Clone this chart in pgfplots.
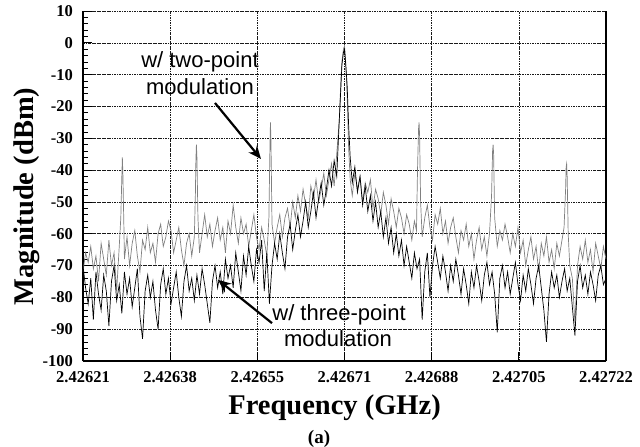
\documentclass[border=0pt]{standalone}
\usepackage{pgfplots}
\pgfplotsset{compat=1.18}
\usepackage{pgfplotstable}
\usepackage{fontspec}
\setmainfont{Liberation Serif}
\setsansfont{Liberation Sans}
\usetikzlibrary{arrows.meta,calc}

% x = frequency offset from 2.42621 GHz in kHz
\pgfplotstableread{
x y
0 -72
5 -66
10 -69
15 -64
20 -71
25 -67
30 -75
35 -63
40 -68
45 -73
50 -62
55 -70
60 -66
65 -78
70 -64
73 -55
75 -42
76 -36
77 -41
79 -58
80 -68
85 -61
90 -70
95 -63
100 -59
105 -67
110 -72
115 -62
120 -65
125 -58
130 -66
135 -63
140 -69
145 -60
150 -57
155 -64
160 -61
165 -56
170 -59
175 -66
180 -62
185 -58
190 -65
195 -70
200 -63
205 -60
210 -67
215 -61
217 -48
218 -37
219 -32
220 -36
222 -55
225 -66
230 -60
235 -54
240 -61
245 -57
250 -64
255 -59
260 -55
265 -62
270 -58
275 -66
280 -56
285 -60
290 -51
295 -58
300 -63
305 -55
310 -60
315 -57
320 -64
325 -59
330 -54
335 -61
340 -65
345 -58
350 -62
355 -67
359 -55
361 -33
362 -25
363 -31
365 -57
370 -63
375 -58
380 -54
385 -61
390 -55
395 -52
400 -58
405 -50
410 -55
415 -48
420 -53
425 -46
430 -51
435 -55
440 -45
445 -49
450 -43
455 -50
460 -46
465 -41
470 -48
475 -43
480 -38
485 -45
490 -35
495 -24
498 -12
500 -6
503 -2
505 -1
507 -5
510 -16
513 -33
516 -43
520 -48
525 -41
530 -46
535 -42
540 -50
545 -44
550 -47
555 -43
560 -52
565 -46
570 -49
575 -54
580 -47
585 -51
590 -57
595 -49
600 -53
605 -58
610 -52
615 -55
620 -60
625 -54
630 -57
635 -62
640 -56
644 -59
646 -40
648 -27
649 -25
650 -29
652 -50
655 -61
660 -55
665 -51
670 -58
675 -62
680 -54
685 -57
690 -52
695 -60
700 -56
705 -63
710 -58
715 -55
720 -61
725 -66
730 -59
735 -62
740 -57
745 -64
750 -60
755 -68
760 -62
765 -58
770 -65
775 -61
780 -67
785 -60
789 -48
791 -34
792 -32
793 -35
795 -55
800 -64
805 -59
810 -62
815 -57
820 -61
825 -66
830 -60
835 -64
840 -58
845 -66
850 -62
855 -70
860 -65
865 -61
870 -68
875 -64
880 -72
885 -63
890 -67
895 -61
900 -69
905 -65
910 -71
915 -63
920 -67
925 -62
929 -58
932 -46
933 -39
934 -38
935 -42
937 -60
940 -70
945 -74
950 -88
955 -70
960 -64
965 -68
970 -62
975 -69
980 -65
985 -72
990 -63
995 -67
1000 -71
1005 -64
1010 -68
}\twopoint

\pgfplotstableread{
x y
0 -70
5 -77
10 -82
15 -74
20 -87
25 -72
30 -79
35 -84
40 -73
45 -78
50 -89
55 -75
60 -70
65 -81
70 -76
75 -85
80 -72
85 -79
90 -74
95 -83
100 -77
105 -71
110 -86
115 -93
120 -78
125 -73
130 -80
135 -75
140 -84
145 -90
150 -76
155 -71
160 -79
165 -74
170 -82
175 -77
180 -72
185 -80
190 -86
195 -75
200 -70
205 -78
210 -74
215 -81
220 -73
225 -79
230 -71
235 -76
240 -82
245 -88
250 -75
255 -70
260 -77
265 -72
270 -79
275 -68
280 -74
285 -70
290 -77
295 -66
300 -72
305 -78
310 -67
315 -73
320 -64
325 -70
330 -75
335 -65
340 -69
345 -62
350 -78
355 -66
360 -82
365 -70
370 -63
375 -68
380 -60
385 -66
390 -71
395 -61
400 -57
405 -65
410 -59
415 -54
420 -61
425 -56
430 -50
435 -58
440 -53
445 -47
450 -55
455 -49
460 -44
465 -51
470 -46
475 -40
480 -45
485 -37
490 -42
495 -24
498 -14
500 -7
503 -3
505 -2
507 -6
510 -13
513 -26
516 -36
520 -44
525 -39
530 -47
535 -42
540 -51
545 -45
550 -53
555 -48
560 -56
565 -50
570 -58
575 -53
580 -61
585 -55
590 -63
595 -58
600 -66
605 -60
610 -67
615 -62
620 -70
625 -64
630 -69
635 -74
640 -66
645 -71
650 -68
655 -87
660 -72
665 -66
670 -80
675 -70
680 -64
685 -69
690 -74
695 -67
700 -72
705 -78
710 -70
715 -75
720 -68
725 -73
730 -79
735 -71
740 -76
745 -82
750 -72
755 -77
760 -70
765 -75
770 -81
775 -73
780 -69
785 -76
790 -72
795 -79
800 -91
805 -74
810 -70
815 -77
820 -72
825 -79
830 -74
835 -69
840 -76
845 -81
850 -73
855 -78
860 -71
865 -76
870 -82
875 -74
880 -70
885 -77
890 -84
895 -94
900 -79
905 -72
910 -77
915 -73
920 -80
925 -75
930 -71
935 -78
940 -74
945 -83
950 -92
955 -75
960 -70
965 -77
970 -73
975 -79
980 -72
985 -76
990 -81
995 -73
1000 -70
1005 -76
1010 -74
}\threepoint

\begin{document}
\begin{tikzpicture}
\begin{axis}[
  scale only axis,
  width=523pt, height=350pt,
  xmin=0, xmax=1010, ymin=-100, ymax=10,
  axis x line=bottom, axis y line=box,
  axis line style={-, line width=1.6pt},
  ytick pos=left,
  tick align=inside,
  xtick={0,168.333,336.667,505,673.333,841.667,1010},
  xticklabels={2.42621,2.42638,2.42655,2.42671,2.42688,2.42705,2.42722},
  ytick={-100,-90,...,10},
  minor tick num=4,
  major tick length=9pt, minor tick length=5pt,
  tick style={black, line width=0.8pt},
  grid=major,
  major grid style={black!90, line width=0.6pt, dash pattern=on 2.5pt off 1pt on 0.6pt off 1pt},
  /pgf/number format/assume math mode=true,
  tick label style={font=\bfseries\fontsize{16.5}{16.5}\selectfont},
  xticklabel style={inner sep=1pt, anchor=north, yshift=-9pt},
  yticklabel style={inner sep=1pt, anchor=east, xshift=-9pt},
  xlabel={Frequency (GHz)},
  ylabel={Magnitude (dBm)},
  label style={font=\bfseries\fontsize{28.5}{28.5}\selectfont},
  xlabel style={at={(rel axis cs:0.481,-0.154)}, anchor=base},
  ylabel style={at={(rel axis cs:-0.0956,0.47)}, anchor=base},
  clip=true,
]
\addplot[color=black!50, line width=0.7pt] table[x=x,y=y] {\twopoint};
\addplot[color=black, line width=0.7pt] table[x=x,y=y] {\threepoint};

\node[font=\sffamily\fontsize{22}{22}\selectfont, anchor=base] at (axis cs:225.9,-7.9) {w/ two-point};
\node[font=\sffamily\fontsize{22}{22}\selectfont, anchor=base] at (axis cs:225.9,-16.4) {modulation};
\draw[line width=2.2pt, -{Stealth[length=13pt,width=11pt]}] (axis cs:254.9,-18.9) -- (axis cs:343.7,-36.5);

\node[font=\sffamily\fontsize{22}{22}\selectfont, anchor=base] at (axis cs:494.4,-87.4) {w/ three-point};
\node[font=\sffamily\fontsize{22}{22}\selectfont, anchor=base] at (axis cs:492.4,-95.6) {modulation};
\draw[line width=2.2pt, -{Stealth[length=13pt,width=11pt]}] (axis cs:365.0,-88.1) -- (axis cs:260.7,-74.5);
\end{axis}
\node[font=\bfseries\fontsize{19}{19}\selectfont, anchor=base] at ($(current axis.south west)+(236pt,-82pt)$) {(a)};
\pgfresetboundingbox
\path[use as bounding box] (current axis.south west) ++(-83pt,-86pt) rectangle ++(640pt,447pt);
\end{tikzpicture}
\end{document}
